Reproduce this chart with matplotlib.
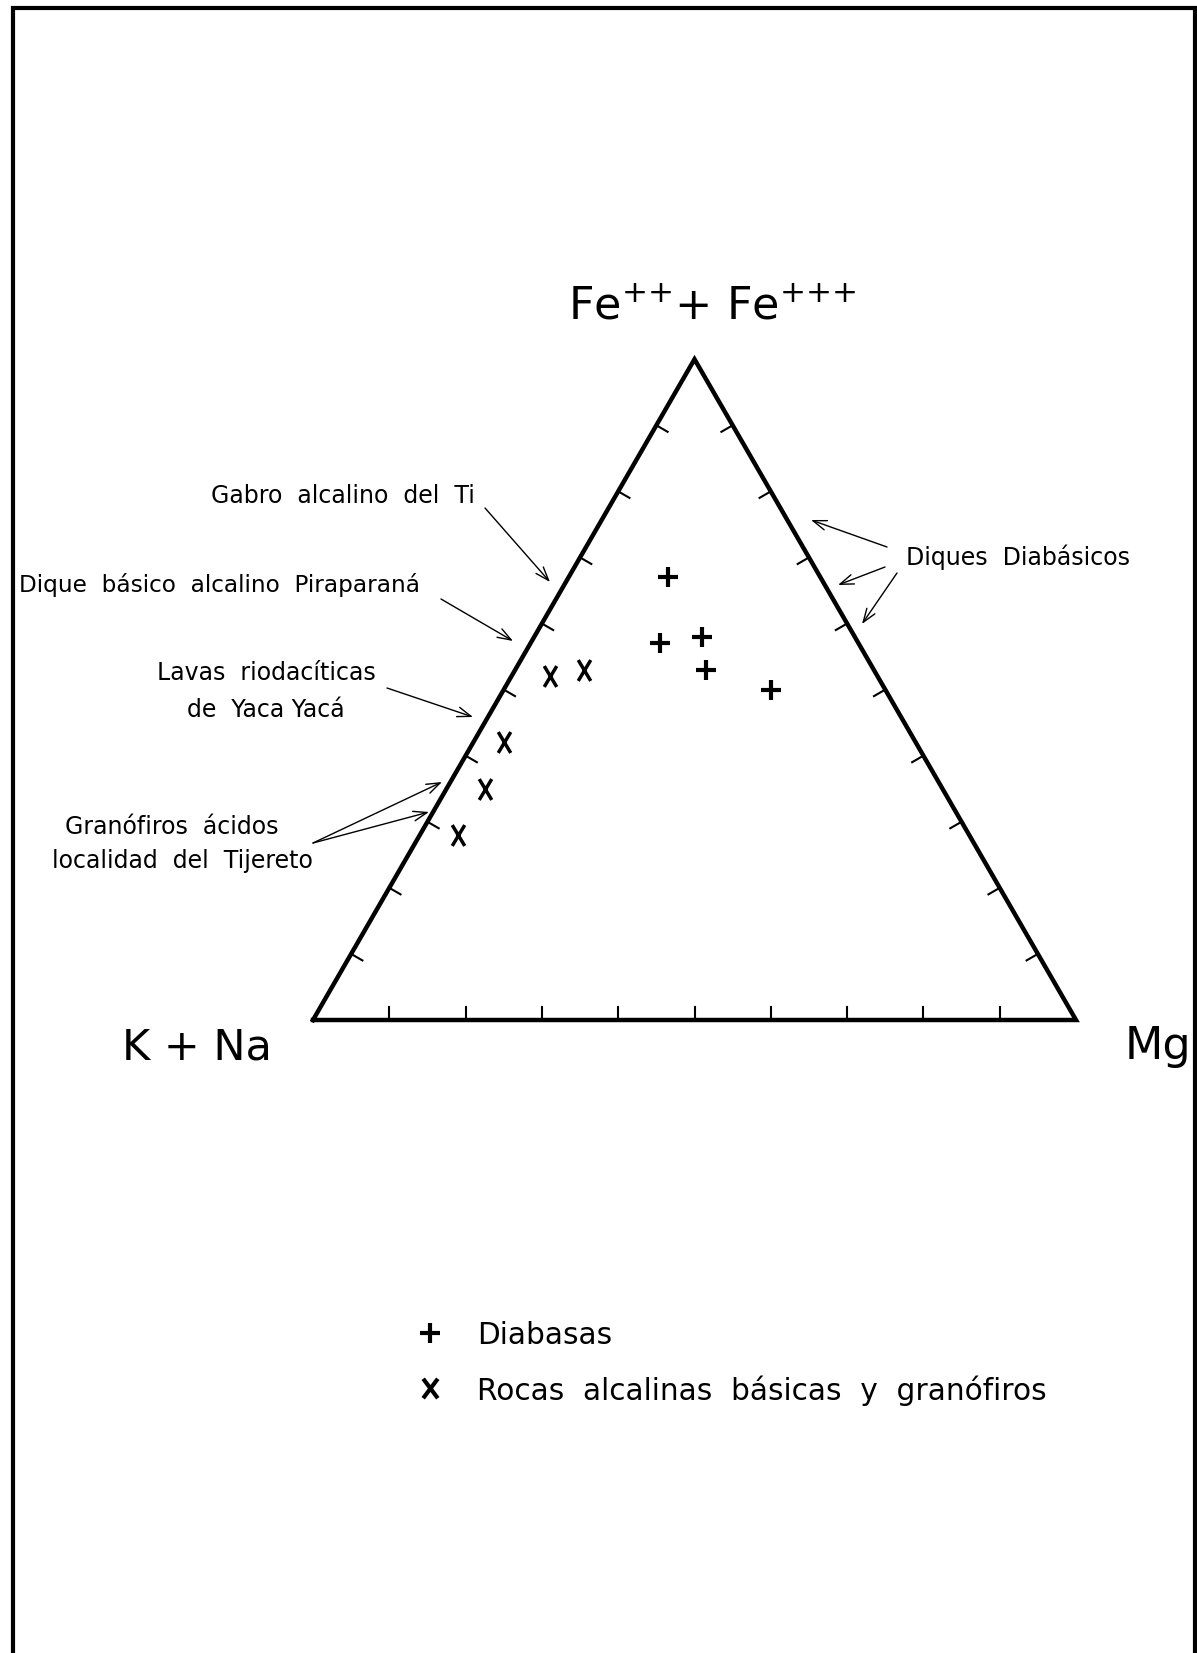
import numpy as np
import matplotlib
matplotlib.use("Agg")
import matplotlib.pyplot as plt
from matplotlib.path import Path

# Ternary compositions in percent; K+Na is the remainder (100 - Fe - Mg)
diabasa_fe = [67, 57, 58, 53, 50]
diabasa_mg = [13, 17, 22, 25, 35]
alcalina_fe = [52, 53, 42, 35, 28]
alcalina_mg = [5, 9, 4, 5, 5]

apex_labels = ["K + Na", r"Fe$^{{+}{+}}$+ Fe$^{{+}{+}{+}}$", "Mg"]
series_names = ["Diabasas", "Rocas  alcalinas  básicas  y  granófiros"]
tick_step = 10

W, H = 1197, 1653
fig = plt.figure(figsize=(W / 100, H / 100), dpi=100)
ax = fig.add_axes([0, 0, 1, 1])
ax.set_xlim(0, W)
ax.set_ylim(H, 0)
ax.axis("off")
plt.rcParams["font.family"] = ["DejaVu Sans"]

# Triangle geometry (page units, y grows downward)
X0, Y0, SIDE = 313.0, 1020.0, 763.0
SQ3 = np.sqrt(3) / 2
bl = np.array([X0, Y0])
br = np.array([X0 + SIDE, Y0])
top = np.array([X0 + SIDE / 2, Y0 - SIDE * SQ3])


def tern(fe, mg):
    fe = np.asarray(fe, float) / 100
    mg = np.asarray(mg, float) / 100
    return X0 + SIDE * (mg + fe / 2), Y0 - SIDE * fe * SQ3


def cross_marker(half_width):
    return Path([(-half_width, -1), (half_width, 1), (-half_width, 1), (half_width, -1)],
                [Path.MOVETO, Path.LINETO, Path.MOVETO, Path.LINETO])


# Page frame
ax.plot([13, 13, 1195, 1195], [1653, 8, 8, 1653], color="black", lw=3,
        solid_joinstyle="miter", clip_on=False)

# Triangle outline
tri = np.array([bl, br, top, bl])
ax.plot(tri[:, 0], tri[:, 1], color="black", lw=3.2, solid_joinstyle="miter")

# Inward ticks every 10 %
tick_len = 13
for f in np.arange(tick_step, 100, tick_step) / 100:
    for a, b, d in [(bl, br, (0, -1)), (bl, top, (SQ3, 0.5)), (br, top, (-SQ3, 0.5))]:
        p = a + f * (b - a)
        ax.plot([p[0], p[0] + tick_len * d[0]], [p[1], p[1] + tick_len * d[1]],
                color="black", lw=1.5)

# Sample points
dx, dy = tern(diabasa_fe, diabasa_mg)
ax.plot(dx, dy, ls="none", marker="+", ms=14, mew=3, color="black")
axx, axy = tern(alcalina_fe, alcalina_mg)
ax.plot(axx, axy, ls="none", marker=cross_marker(0.6), ms=15, mew=2.5, color="black")

# Apex labels
ax.text(122, 1059, apex_labels[0], fontsize=31, ha="left", va="baseline")
ax.text(712, 319, apex_labels[1], fontsize=32, ha="center", va="baseline")
ax.text(1125, 1059, apex_labels[2], fontsize=32, ha="left", va="baseline",
        clip_on=False)

# Annotations
lab_fs = 17
ax.text(211, 503, "Gabro  alcalino  del  Ti", fontsize=lab_fs, va="baseline")
ax.text(19, 592, "Dique  básico  alcalino  Piraparaná", fontsize=16.7, va="baseline")
ax.text(266, 680, "Lavas  riodacíticas", fontsize=lab_fs, ha="center", va="baseline")
ax.text(266, 717, "de  Yaca Yacá", fontsize=lab_fs, ha="center", va="baseline")
ax.text(172, 834, "Granófiros  ácidos", fontsize=lab_fs, ha="center", va="baseline")
ax.text(182, 868, "localidad  del  Tijereto", fontsize=lab_fs, ha="center", va="baseline")
ax.text(906, 565, "Diques  Diabásicos", fontsize=lab_fs, ha="left", va="baseline")

arrows = [
    ((485, 508), (550, 582)),
    ((441, 599), (513, 641)),
    ((387, 688), (473, 717)),
    ((313, 843), (442, 782)),
    ((313, 843), (429, 812)),
    ((887, 547), (811, 520)),
    ((885, 567), (838, 585)),
    ((897, 573), (862, 624)),
]
for start, end in arrows:
    ax.annotate("", xy=end, xytext=start,
                arrowprops=dict(arrowstyle="->,head_length=0.7,head_width=0.25",
                                mutation_scale=14, lw=1.0, color="black",
                                shrinkA=0, shrinkB=0))

# Legend
ax.plot([430], [1333], ls="none", marker="+", ms=14, mew=3, color="black")
ax.plot([430], [1388], ls="none", marker=cross_marker(0.75), ms=14, mew=3, color="black")
ax.text(477, 1333, series_names[0], fontsize=21.3, va="center_baseline")
ax.text(477, 1388, series_names[1], fontsize=21.3, va="center_baseline")

fig.savefig("out.png", dpi=100, facecolor="white")
